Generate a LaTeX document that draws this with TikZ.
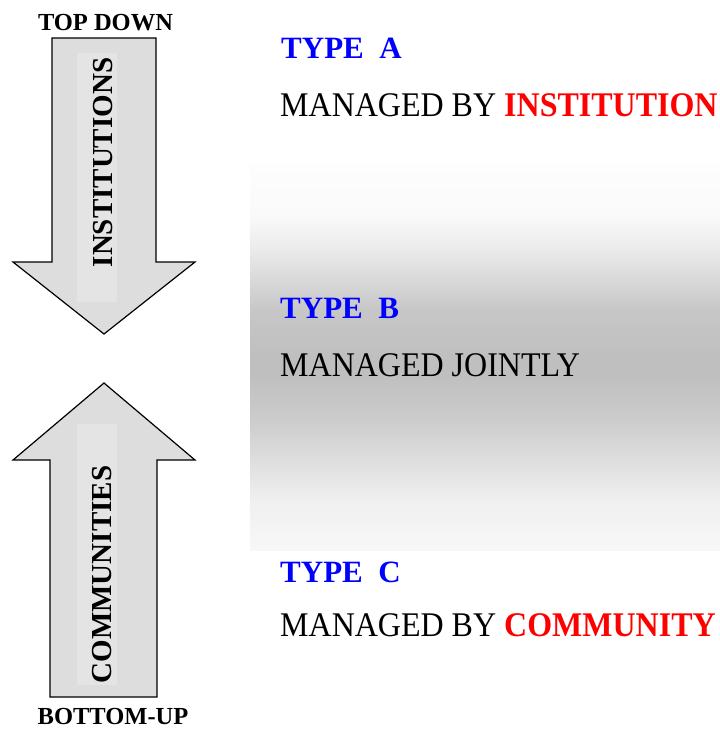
\documentclass[tikz,border=0pt]{standalone}
\usepackage{fontspec}
\setmainfont{Liberation Serif}
\usepackage{graphicx}

% soft grey band behind the middle row, lightest at the top and bottom edges
\pgfdeclareverticalshading{bandshade}{100bp}{%
  color(0bp)=(black!3); color(25bp)=(black!3);
  color(31.5bp)=(black!6); color(36.7bp)=(black!13);
  color(41.9bp)=(black!20); color(47.7bp)=(black!25);
  color(50.3bp)=(black!25); color(56.2bp)=(black!22);
  color(60.1bp)=(black!15); color(64bp)=(black!8);
  color(68.5bp)=(black!2); color(75bp)=(black!0.8);
  color(100bp)=(black!0.8)}

\definecolor{arrowfill}{HTML}{DDDDDD}
\definecolor{arrowinner}{HTML}{E4E4E4}
\definecolor{typeblue}{RGB}{0,0,255}
\definecolor{keyred}{RGB}{255,0,0}

\tikzset{
  bigarrow/.style={draw=black, line width=1.2pt, fill=arrowfill, line join=miter},
  innerband/.style={fill=arrowinner, draw=none},
  endlabel/.style={font=\fontsize{24.5}{28}\selectfont\bfseries, anchor=base, inner sep=0pt},
  arrowword/.style={font=\fontsize{29}{33}\selectfont\bfseries, rotate=90, anchor=base, inner sep=0pt},
  typehead/.style={font=\fontsize{31}{36}\selectfont\bfseries, text=typeblue, anchor=base west, inner sep=0pt},
  typeline/.style={font=\fontsize{32}{37}\selectfont, anchor=base west, inner sep=0pt},
}

\newcommand{\tallish}[1]{\scalebox{1}[1.08]{#1}}

\begin{document}
\begin{tikzpicture}[x=1pt, y=-1pt]
\useasboundingbox (0,0) rectangle (720,729);

% shaded band behind TYPE B
\shade[shading=bandshade] (250,165) rectangle (720,550);

% downward arrow: institutions
\draw[bigarrow] (52,38) -- (156,38) -- (156,262) -- (195,262) -- (104,334)
  -- (13,262) -- (52,262) -- cycle;
\fill[innerband] (77,53) rectangle (117,302);
\node[arrowword] (inst) at (112,162.5) {INSTITUTIONS};

% upward arrow: communities
\draw[bigarrow] (104,383) -- (195,460) -- (157,460) -- (157,697) -- (50,697)
  -- (50,460) -- (13,460) -- cycle;
\fill[innerband] (77,424) rectangle (117,685);
\node[arrowword] (comm) at (111,574.5) {COMMUNITIES};

% arrow end labels
\node[endlabel] (topdown) at (105.5,30) {TOP DOWN};
\node[endlabel] (bottomup) at (113,724) {BOTTOM-UP};

% management types
\node[typehead] (typeA) at (281,58) {TYPE\ \ A};
\node[typeline] (mgA) at (280,116) {\tallish{MANAGED BY \textcolor{keyred}{\bfseries INSTITUTION}}};

\node[typehead] (typeB) at (280,318) {TYPE\ \ B};
\node[typeline] (mgB) at (280,376) {\tallish{MANAGED JOINTLY}};

\node[typehead] (typeC) at (280,582) {TYPE\ \ C};
\node[typeline] (mgC) at (280,636) {\tallish{MANAGED BY \textcolor{keyred}{\bfseries COMMUNITY}}};
\end{tikzpicture}
\end{document}
